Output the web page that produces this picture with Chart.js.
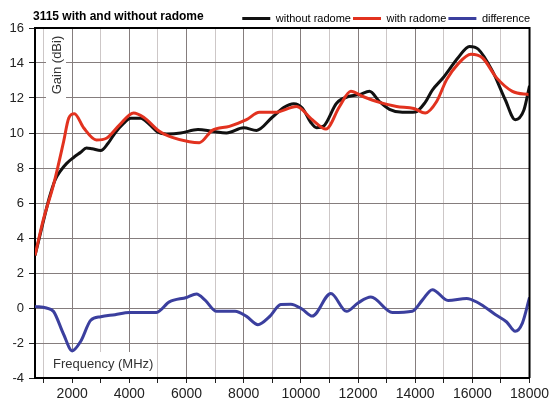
<!DOCTYPE html>
<html>
<head>
<meta charset="utf-8">
<script src="https://cdn.jsdelivr.net/npm/chart.js@4.4.1/dist/chart.umd.min.js"></script>
<style>
  html, body { margin: 0; padding: 0; background: #fff; }
  #wrap { width: 552px; height: 403px; position: relative; }
</style>
</head>
<body>
<div id="wrap"><canvas id="gain"></canvas></div>
<script>
// values (MHz, dBi)
const freqWithout = [700, 1000, 1200, 1400, 1600, 1800, 2050, 2300, 2500, 2700, 3000, 3250, 3500, 3800, 4050, 4400, 4700, 5000, 5300, 5800, 6400, 6900, 7400, 8000, 8450, 9000, 9400, 9750, 10050, 10350, 10550, 10800, 11250, 11700, 12050, 12400, 12750, 13100, 13550, 14000, 14350, 14600, 15000, 15500, 15900, 16200, 16700, 17150, 17500, 17800, 18000];
const gainWithout = [3.0, 5.0, 6.3, 7.3, 7.85, 8.25, 8.6, 8.9, 9.15, 9.1, 9.0, 9.4, 10.0, 10.55, 10.85, 10.85, 10.5, 10.05, 9.95, 10.0, 10.2, 10.1, 10.0, 10.3, 10.15, 10.9, 11.45, 11.67, 11.43, 10.6, 10.3, 10.4, 11.7, 12.1, 12.2, 12.38, 11.8, 11.35, 11.18, 11.2, 11.75, 12.45, 13.2, 14.3, 14.95, 14.8, 13.55, 11.9, 10.76, 11.3, 12.7];

const freqWith = [700, 1000, 1350, 1700, 1880, 2080, 2400, 2850, 3200, 3650, 4150, 4500, 5050, 5500, 6100, 6450, 6900, 7500, 8100, 8550, 9100, 9850, 10400, 10880, 11350, 11750, 12150, 12750, 13350, 13950, 14350, 14750, 15100, 15500, 15950, 16350, 16850, 17400, 18000];
const gainWith = [3.0, 5.1, 7.05, 9.5, 10.85, 11.1, 10.3, 9.6, 9.7, 10.45, 11.15, 10.9, 10.1, 9.75, 9.5, 9.45, 10.15, 10.38, 10.76, 11.18, 11.18, 11.52, 10.76, 10.23, 11.5, 12.38, 12.1, 11.75, 11.52, 11.4, 11.14, 11.8, 13.05, 13.95, 14.5, 14.3, 13.15, 12.38, 12.19];

const freqDiff = [700, 1100, 1350, 1700, 2000, 2300, 2650, 3000, 3500, 4000, 4950, 5400, 6000, 6350, 6650, 7050, 7700, 8100, 8500, 8900, 9300, 9650, 10050, 10400, 11050, 11600, 12000, 12450, 13200, 13900, 14250, 14600, 15150, 15800, 16200, 16800, 17200, 17500, 17750, 18000];
const gainDiff = [0.09, 0.0, -0.2, -1.5, -2.45, -1.9, -0.7, -0.5, -0.38, -0.25, -0.25, 0.35, 0.6, 0.8, 0.45, -0.19, -0.18, -0.48, -0.95, -0.5, 0.2, 0.22, -0.07, -0.46, 0.83, -0.19, 0.29, 0.63, -0.25, -0.18, 0.45, 1.05, 0.43, 0.55, 0.3, -0.37, -0.8, -1.33, -0.86, 0.6];

const seriesNames = ['without radome', 'with radome', 'difference'];
const seriesColors = ['#111111', '#e2321f', '#3b3f9e'];

const xTicks = [];
for (let f = 1000; f <= 18000; f += 1000) xTicks.push(f);

Chart.defaults.font.family = '"Liberation Sans", Arial, sans-serif';
Chart.defaults.color = '#222';

const pts = (xs, ys) => xs.map((x, i) => ({ x: x, y: ys[i] }));

const majorGrid = '#857d7d';
const minorGrid = '#cdc7c7';

// title, the in-plot axis captions and the box around the plot
const frameLabels = {
  id: 'frameLabels',
  beforeDatasetsDraw(chart) {
    const { ctx, chartArea: a } = chart;
    ctx.save();
    ctx.fillStyle = '#fff';
    ctx.fillRect(a.left + 11, a.top + 1, 20, 72);
    ctx.fillRect(a.left + 10, a.bottom - 26, 112, 25);
    ctx.fillStyle = '#333';
    ctx.font = '13px "Liberation Sans", Arial, sans-serif';
    ctx.textBaseline = 'middle';
    ctx.textAlign = 'left';
    ctx.fillText('Frequency (MHz)', a.left + 18, a.bottom - 14);
    ctx.translate(a.left + 22, a.top + 37);
    ctx.rotate(-Math.PI / 2);
    ctx.textAlign = 'center';
    ctx.fillText('Gain (dBi)', 0, 0);
    ctx.restore();
  },
  afterDraw(chart) {
    const { ctx, chartArea: a } = chart;
    ctx.save();
    ctx.strokeStyle = '#000';
    ctx.lineWidth = 2;
    ctx.beginPath();
    ctx.moveTo(a.left, a.top);
    ctx.lineTo(a.right, a.top);
    ctx.lineTo(a.right, a.bottom);
    ctx.stroke();
    ctx.fillStyle = '#000';
    ctx.font = 'bold 12px "Liberation Sans", Arial, sans-serif';
    ctx.textBaseline = 'middle';
    ctx.textAlign = 'left';
    ctx.fillText('3115 with and without radome', 33, 16.5);
    ctx.restore();
  }
};

new Chart(document.getElementById('gain').getContext('2d'), {
  type: 'line',
  data: {
    datasets: [
      { label: seriesNames[0], data: pts(freqWithout, gainWithout), borderColor: seriesColors[0], backgroundColor: seriesColors[0], order: 1 },
      { label: seriesNames[1], data: pts(freqWith, gainWith), borderColor: seriesColors[1], backgroundColor: seriesColors[1], order: 0 },
      { label: seriesNames[2], data: pts(freqDiff, gainDiff), borderColor: seriesColors[2], backgroundColor: seriesColors[2], order: 2 }
    ]
  },
  options: {
    responsive: true,
    maintainAspectRatio: false,
    animation: false,
    layout: { padding: { top: 11, right: 20, left: 0, bottom: 0 } },
    elements: {
      line: { borderWidth: 3, cubicInterpolationMode: 'monotone' },
      point: { radius: 0, hoverRadius: 0, borderWidth: 3 }
    },
    plugins: {
      tooltip: { enabled: false },
      title: { display: false },
      legend: {
        position: 'top',
        align: 'end',
        maxHeight: 17,
        labels: {
          color: '#000',
          font: { size: 11 },
          usePointStyle: true,
          pointStyle: 'line',
          pointStyleWidth: 28,
          padding: 2,
          sort: (a, b) => a.datasetIndex - b.datasetIndex
        }
      }
    },
    scales: {
      x: {
        type: 'linear',
        min: 700,
        max: 18000,
        afterBuildTicks: s => { s.ticks = xTicks.map(v => ({ value: v })); },
        afterFit: s => { s.height = 25; },
        ticks: {
          autoSkip: false,
          maxRotation: 0,
          padding: 3,
          color: '#222',
          font: { size: 14 },
          callback: v => (v % 2000 === 0 ? String(v) : '')
        },
        grid: {
          color: c => (c.tick && c.tick.value % 2000 === 0 ? majorGrid : minorGrid),
          tickColor: '#222',
          tickLength: 5,
          lineWidth: 1
        },
        border: { color: '#000', width: 2 }
      },
      y: {
        min: -4,
        max: 16,
        afterFit: s => { s.width = 35; },
        ticks: {
          stepSize: 1,
          padding: 5,
          color: '#222',
          font: { size: 13 },
          callback: v => (v % 2 === 0 ? String(v) : '')
        },
        grid: {
          color: c => (c.tick && c.tick.value % 2 === 0 ? majorGrid : minorGrid),
          tickColor: '#222',
          tickLength: 6,
          lineWidth: 1
        },
        border: { color: '#000', width: 2 }
      }
    }
  },
  plugins: [frameLabels]
});
</script>
</body>
</html>
